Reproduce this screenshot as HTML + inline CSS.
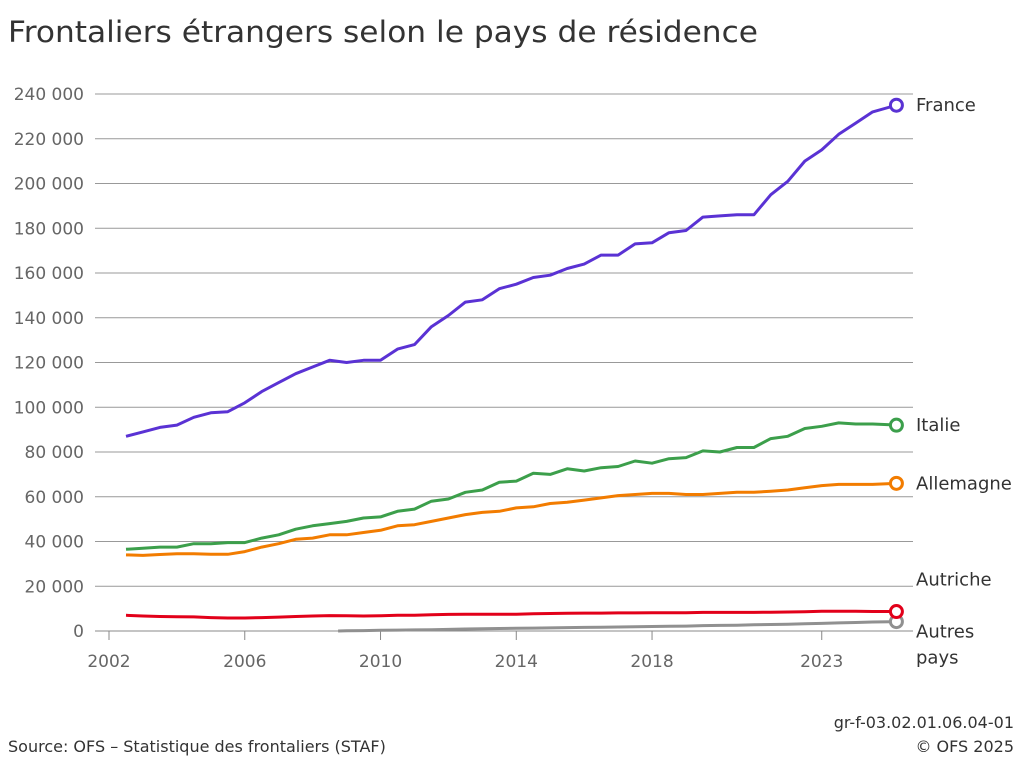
<!DOCTYPE html>
<html><head><meta charset="utf-8"><style>
body{margin:0;background:#fff;font-family:"DejaVu Sans","Liberation Sans",sans-serif;}
svg text{font-family:"DejaVu Sans","Liberation Sans",sans-serif;}
</style></head><body>
<svg id="chart" width="1024" height="767" viewBox="0 0 1024 767" xmlns="http://www.w3.org/2000/svg">
<text x="8" y="42" font-size="29" fill="#333" textLength="750" lengthAdjust="spacingAndGlyphs">Frontaliers étrangers selon le pays de résidence</text>
<g id="grid"></g>
<g id="series"></g>
<text x="8" y="752" font-size="16" fill="#333">Source: OFS – Statistique des frontaliers (STAF)</text>
<text x="1014" y="728" font-size="16" fill="#333" text-anchor="end">gr-f-03.02.01.06.04-01</text>
<text x="1014" y="752" font-size="16" fill="#333" text-anchor="end">© OFS 2025</text>
</svg>
<script>
const yTicks=[0,20000,40000,60000,80000,100000,120000,140000,160000,180000,200000,220000,240000];
const xTicks=[2002,2006,2010,2014,2018,2023];
const years=[2002.5,2003,2003.5,2004,2004.5,2005,2005.5,2006,2006.5,2007,2007.5,2008,2008.5,2009,2009.5,2010,2010.5,2011,2011.5,2012,2012.5,2013,2013.5,2014,2014.5,2015,2015.5,2016,2016.5,2017,2017.5,2018,2018.5,2019,2019.5,2020,2020.5,2021,2021.5,2022,2022.5,2023,2023.5,2024,2024.5,2025.2];
const france=[87000,89000,91000,92000,95500,97500,98000,102000,107000,111000,115000,118000,121000,120000,121000,121000,126000,128000,136000,141000,147000,148000,153000,155000,158000,159000,162000,164000,168000,168000,173000,173500,178000,179000,185000,185500,186000,186000,195000,201000,210000,215000,222000,227000,232000,235000];
const italie=[36500,37000,37500,37500,39000,39000,39500,39500,41500,43000,45500,47000,48000,49000,50500,51000,53500,54500,58000,59000,62000,63000,66500,67000,70500,70000,72500,71500,73000,73500,76000,75000,77000,77500,80500,80000,82000,82000,86000,87000,90500,91500,93000,92500,92500,92000];
const allemagne=[34000,33800,34200,34500,34500,34300,34300,35500,37500,39000,41000,41500,43000,43000,44000,45000,47000,47500,49000,50500,52000,53000,53500,55000,55500,57000,57500,58500,59500,60500,61000,61500,61500,61000,61000,61500,62000,62000,62500,63000,64000,65000,65500,65500,65500,66000];
const autriche=[7000,6700,6500,6400,6300,6000,5800,5800,6000,6200,6500,6700,6900,6800,6700,6800,7000,7000,7300,7400,7500,7500,7500,7500,7700,7800,7900,8000,8000,8100,8100,8200,8200,8200,8300,8300,8300,8300,8400,8500,8600,8800,8800,8800,8700,8700];
const autresYears=[2008.75,2009,2009.5,2010,2010.5,2011,2011.5,2012,2012.5,2013,2013.5,2014,2014.5,2015,2015.5,2016,2016.5,2017,2017.5,2018,2018.5,2019,2019.5,2020,2020.5,2021,2021.5,2022,2022.5,2023,2023.5,2024,2024.5,2025.2];
const autres=[0,100,200,300,400,500,600,700,900,1000,1100,1200,1300,1400,1500,1600,1700,1800,1900,2000,2100,2200,2400,2500,2600,2800,2900,3000,3200,3400,3600,3800,4000,4200];

const NS="http://www.w3.org/2000/svg";
const X=y=>109+(y-2002)*33.94;
const Y=v=>631-v/20000*44.75;
const grid=document.getElementById('grid'), ser=document.getElementById('series');
function mk(tag,attrs,parent){const e=document.createElementNS(NS,tag);for(const k in attrs)e.setAttribute(k,attrs[k]);parent.appendChild(e);return e;}
yTicks.forEach(v=>{
  const l=mk('line',{x1:95,x2:913,y1:Y(v),y2:Y(v),stroke:v===0?'#888':'#999','stroke-width':1},grid);
  
  
  const t=mk('text',{x:84,y:Y(v)+6,'font-size':17,fill:'#666','text-anchor':'end'},grid);
  
  
  t.textContent=v===0?'0':(v/1000)+' 000';
});
xTicks.forEach(y=>{
  const l=mk('line',{x1:X(y),x2:X(y),y1:631,y2:640,stroke:'#888'},grid);
  
  
  const t=mk('text',{x:X(y),y:667,'font-size':17,fill:'#666','text-anchor':'middle'},grid);
  
  
  t.textContent=y;
});
const series=[
 {name:'france',xs:years,vs:france,c:'#5a32d4',label:['France'],ly:0},
 {name:'italie',xs:years,vs:italie,c:'#3c9f4b',label:['Italie'],ly:0},
 {name:'allemagne',xs:years,vs:allemagne,c:'#f27c00',label:['Allemagne'],ly:0},
 {name:'autres',xs:autresYears,vs:autres,c:'#909090',label:['Autres','pays'],ly:10},
 {name:'autriche',xs:years,vs:autriche,c:'#e2001a',label:['Autriche'],ly:-32}
];
series.forEach(s=>{
  const d=s.xs.map((x,i)=>(i?'L':'M')+X(x).toFixed(1)+','+Y(s.vs[i]).toFixed(1)).join('');
  const p=mk('path',{d:d,fill:'none',stroke:s.c,'stroke-width':3,'stroke-linejoin':'round'},ser);
  
  
  const lx=X(s.xs[s.xs.length-1]), lyv=Y(s.vs[s.vs.length-1]);
  const c=mk('circle',{cx:lx,cy:lyv,r:6,fill:'#fff',stroke:s.c,'stroke-width':3},ser);
  
  
  s.label.forEach((w,i)=>{
    const t=mk('text',{x:916,y:lyv+6+s.ly+i*26,'font-size':18,fill:'#333'},ser);
    
    
    t.textContent=w;
  });
});
</script>
</body></html>
